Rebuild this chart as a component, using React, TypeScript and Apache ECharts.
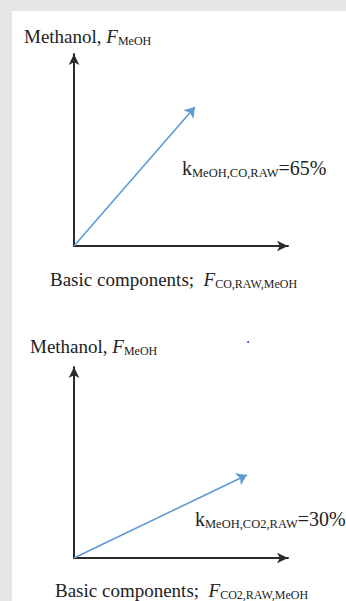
import React, { useEffect, useRef } from 'react';
import * as echarts from 'echarts';

// Vector end points (axis units 0..100) for the two panels
const vectorX = [56.5, 80.8];
const vectorY = [72.4, 43.5];
// Ratio labels
const shareValues = ['65%', '30%'];
const shareSubscripts = ['MeOH,CO,RAW', 'MeOH,CO2,RAW'];
// Axis titles
const yTitle = 'Methanol, ';
const ySubscript = 'MeOH';
const xTitle = 'Basic components;';
const xSubscripts = ['CO,RAW,MeOH', 'CO2,RAW,MeOH'];

const SERIF = "'Liberation Serif', 'Times New Roman', serif";
const AXIS_COLOR = '#2b2b2b';
const VEC_COLOR = '#5b9bd5';
const TEXT_COLOR = '#222';

const rich = {
  m: { fontFamily: SERIF, fontSize: 19, lineHeight: 22, color: TEXT_COLOR },
  i: { fontFamily: SERIF, fontSize: 19, lineHeight: 22, color: TEXT_COLOR, fontStyle: 'italic' },
  s: { fontFamily: SERIF, fontSize: 12, lineHeight: 14, color: TEXT_COLOR, verticalAlign: 'bottom' },
  k: { fontFamily: SERIF, fontSize: 20, lineHeight: 23, color: TEXT_COLOR },
  ks: { fontFamily: SERIF, fontSize: 12.5, lineHeight: 14, color: TEXT_COLOR, verticalAlign: 'bottom' },
};

const gridBoxes = [
  { left: 74, top: 54, width: 214, height: 192 },
  { left: 74, top: 367, width: 214, height: 191 },
];
const yTitlePos = [[24, 25], [30, 335]];
const xTitlePos = [[50, 268], [55, 579]];
const kPos = [[182, 156], [195, 507]];

export default function App() {
  const ref = useRef<HTMLDivElement>(null);
  useEffect(() => {
    document.body.style.margin = '0';
    if (!ref.current) return;
    const chart = echarts.init(ref.current, null, { renderer: 'svg' });
    const axisCommon = {
      type: 'value' as const,
      min: 0,
      max: 100,
      axisLine: {
        show: true,
        onZero: false,
        symbol: ['none', 'arrow'],
        symbolSize: [8, 11],
        lineStyle: { color: AXIS_COLOR, width: 2 },
      },
      axisTick: { show: false },
      axisLabel: { show: false },
      splitLine: { show: false },
    };
    const graphic: any[] = [
      { type: 'rect', shape: { x: 12, y: 11, width: 334, height: 590 }, style: { fill: '#fff' }, z: -10, silent: true },
      { type: 'circle', shape: { cx: 248, cy: 342, r: 1 }, style: { fill: '#3a4fe0' } },
    ];
    const base = { fontFamily: SERIF, fontSize: 19, fill: TEXT_COLOR };
    gridBoxes.forEach((_, p) => {
      graphic.push({
        type: 'text',
        x: yTitlePos[p][0],
        y: yTitlePos[p][1],
        style: { ...base, text: `{m|${yTitle}}{i|F}{s|${ySubscript}}`, rich },
      });
      graphic.push({
        type: 'text',
        x: xTitlePos[p][0],
        y: xTitlePos[p][1],
        style: { ...base, text: `{m|${xTitle}}{i|  F}{s|${xSubscripts[p]}}`, rich },
      });
      graphic.push({
        type: 'text',
        x: kPos[p][0],
        y: kPos[p][1],
        style: { ...base, text: `{k|k}{ks|${shareSubscripts[p]}}{k|=${shareValues[p]}}`, rich },
      });
    });
    chart.setOption({
      animation: false,
      backgroundColor: '#e6e6e6',
      textStyle: { fontFamily: SERIF },
      grid: gridBoxes.map((g) => ({ ...g, containLabel: false })),
      xAxis: gridBoxes.map((_, i) => ({ ...axisCommon, gridIndex: i })),
      yAxis: gridBoxes.map((_, i) => ({ ...axisCommon, gridIndex: i })),
      series: gridBoxes.map((_, i) => ({
        type: 'lines',
        coordinateSystem: 'cartesian2d',
        xAxisIndex: i,
        yAxisIndex: i,
        symbol: ['none', 'arrow'],
        symbolSize: [8, 10],
        lineStyle: { color: VEC_COLOR, width: 1.6, opacity: 1 },
        data: [{ coords: [[0, 0], [vectorX[i], vectorY[i]]] }],
      })),
      graphic,
    });
    return () => chart.dispose();
  }, []);
  return <div ref={ref} style={{ width: 346, height: 601 }} />;
}
